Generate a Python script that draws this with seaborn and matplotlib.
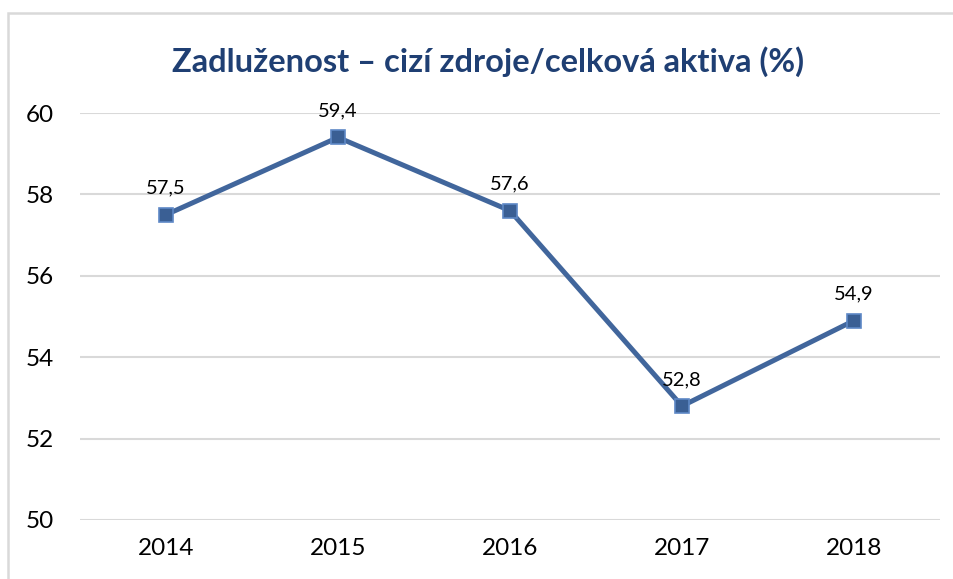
import matplotlib
matplotlib.use("Agg")
import matplotlib.pyplot as plt
import seaborn as sns
import pandas as pd
from matplotlib.patches import Rectangle

years = ["2014", "2015", "2016", "2017", "2018"]
values = [57.5, 59.4, 57.6, 52.8, 54.9]
labels = ["57,5", "59,4", "57,6", "52,8", "54,9"]
yticks = [50, 52, 54, 56, 58, 60]
title = "Zadluženost – cizí zdroje/celková aktiva (%)"

sns.set_theme(style="white")
plt.rcParams['font.family'] = ['Lato', 'DejaVu Sans']

df = pd.DataFrame({"year": years, "value": values})

fig = plt.figure(figsize=(9.54, 5.79), dpi=100)
ax = fig.add_axes([80/954, 59/579, (940-80)/954, (520-113)/579])

line_color = "#41669C"
sns.lineplot(data=df, x="year", y="value", ax=ax, color=line_color, linewidth=3.6,
             marker="s", markersize=10, markerfacecolor="#3A5F94",
             markeredgecolor="#5E88C6", markeredgewidth=1.2, sort=False)

ax.set_ylim(50, 60)
ax.set_xlim(-0.5, len(years) - 0.5)
ax.set_yticks(yticks)
ax.set_yticklabels([str(t) for t in yticks])
ax.set_xlabel("")
ax.set_ylabel("")
for t in yticks:
    ax.axhline(t, color="#D9D9D9", linewidth=1.5, zorder=0)
for s in ax.spines.values():
    s.set_visible(False)
ax.tick_params(axis="both", length=0, labelsize=17.5, colors="black")
ax.tick_params(axis="x", pad=13)
for lab in ax.get_yticklabels():
    lab.set_horizontalalignment("left")
ax.yaxis.set_tick_params(pad=39)

for i, (v, l) in enumerate(zip(values, labels)):
    ax.annotate(l, (i, v), xytext=(0, 13), textcoords="offset points",
                ha="center", va="bottom", fontsize=14.5, color="black")

fig.text(488/954, 1 - 62/579, title, ha="center", va="center",
         fontsize=23.5, fontweight="bold", color="#1F3F73")

fig.patches.append(Rectangle((8/954, -0.1), 1.2, 1 - 13/579 + 0.1,
                             transform=fig.transFigure, fill=False,
                             edgecolor="#D9D9D9", linewidth=1.8))

fig.savefig("out.png", dpi=100)
